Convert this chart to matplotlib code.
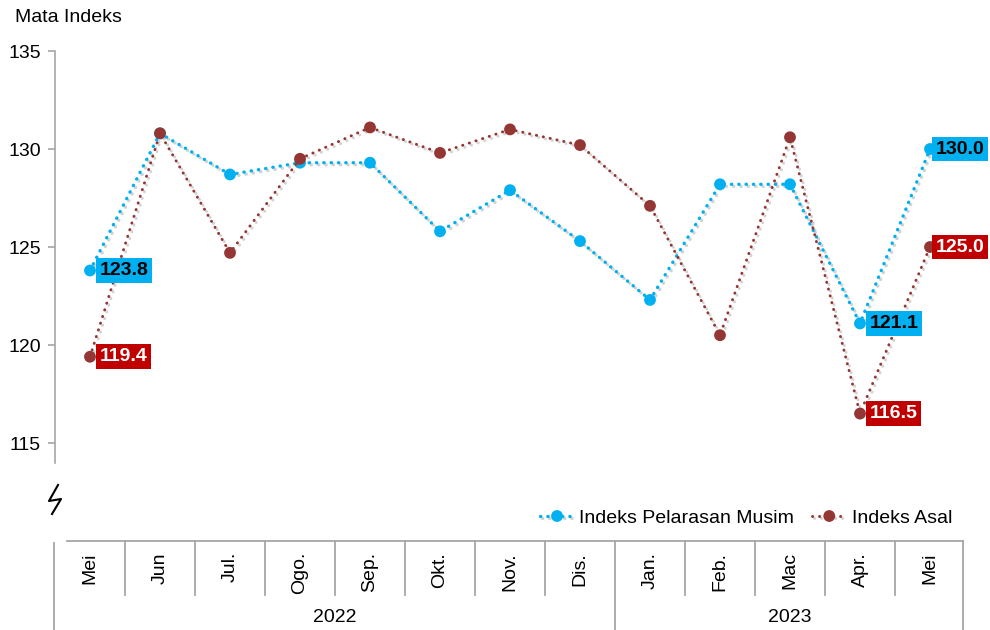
import matplotlib
matplotlib.use("Agg")
import matplotlib.pyplot as plt
import matplotlib.patheffects as pe
from matplotlib.lines import Line2D

plt.rcParams['font.family'] = ['Liberation Sans', 'DejaVu Sans']

months = ["Mei", "Jun", "Jul.", "Ogo.", "Sep.", "Okt.", "Nov.", "Dis.",
          "Jan.", "Feb.", "Mac", "Apr.", "Mei"]
years = ["2022", "2023"]
year_counts = [8, 5]
sa_index = [123.8, 130.8, 128.7, 129.3, 129.3, 125.8, 127.9, 125.3,
            122.3, 128.2, 128.2, 121.1, 130.0]
orig_index = [119.4, 130.8, 124.7, 129.5, 131.1, 129.8, 131.0, 130.2,
              127.1, 120.5, 130.6, 116.5, 125.0]
yticks = [115, 120, 125, 130, 135]
labels_sa = {0: "123.8", 11: "121.1", 12: "130.0"}
labels_orig = {0: "119.4", 11: "116.5", 12: "125.0"}

BLUE = "#00B0F0"
RED = "#943634"
LABEL_RED = "#C00000"
GRID = "#A6A6A6"
FS = 14

W, H = 990, 630
fig = plt.figure(figsize=(W / 100, H / 100), dpi=100)
left, right, top, bottom = 55, 965, 51, 541
ax = fig.add_axes([left / W, (H - bottom) / H, (right - left) / W, (bottom - top) / H])

x = list(range(len(months)))
shadow = [pe.SimpleLineShadow(offset=(1.5, -1.5), shadow_color="gray", alpha=0.35), pe.Normal()]
ax.plot(x, sa_index, color=BLUE, linestyle=(0, (0.1, 2.1)), linewidth=2.4,
        dash_capstyle="round", marker="o", markersize=8.5, markeredgewidth=0,
        label="Indeks Pelarasan Musim", path_effects=shadow, zorder=3)
ax.plot(x, orig_index, color=RED, linestyle=(0, (0.1, 2.3)), linewidth=2.1,
        dash_capstyle="round", marker="o", markersize=8.5, markeredgewidth=0,
        label="Indeks Asal", path_effects=shadow, zorder=4)

ax.set_xlim(-0.5, len(months) - 0.5)
ax.set_ylim(110, 135)
ax.set_yticks(yticks)
ax.set_yticklabels([str(t) for t in yticks], fontsize=FS)
ax.set_xticks([])
for s in ["top", "right", "bottom"]:
    ax.spines[s].set_visible(False)
ax.spines["left"].set_color(GRID)
ax.spines["left"].set_linewidth(1.2)
ax.spines["left"].set_bounds(114.0, 135)
ax.tick_params(axis="y", direction="out", length=5, color=GRID, width=1.2, pad=5)

# data labels
for i, txt in labels_sa.items():
    off = 4 if i == len(months) - 1 else 7
    ax.annotate(txt, (x[i], sa_index[i]), xytext=(off, 0), textcoords="offset points",
                ha="left", va="center", fontsize=FS, fontweight="bold", color="black",
                bbox=dict(boxstyle="square,pad=0.2", fc=BLUE, ec="none"), zorder=6)
for i, txt in labels_orig.items():
    off = 4 if i == len(months) - 1 else 7
    ax.annotate(txt, (x[i], orig_index[i]), xytext=(off, 0), textcoords="offset points",
                ha="left", va="center", fontsize=FS, fontweight="bold", color="white",
                bbox=dict(boxstyle="square,pad=0.2", fc=LABEL_RED, ec="none"), zorder=6)

# category table below
tr = ax.get_xaxis_transform()
axh = bottom - top
def fy(py):
    return (bottom - py) / axh

y_top = fy(541)
y_mid = fy(595)
y_bot = fy(632)
ax.plot([-0.33, len(months) - 0.53], [y_top, y_top], transform=tr, color=GRID,
        linewidth=1.3, clip_on=False)
ax.plot([-0.52, -0.52], [fy(543), y_bot], transform=tr, color=GRID, linewidth=1.3, clip_on=False)
ax.plot([len(months) - 0.53] * 2, [y_top, y_bot], transform=tr, color=GRID, linewidth=1.3, clip_on=False)
boundaries = []
c = 0
for n in year_counts[:-1]:
    c += n
    boundaries.append(c - 0.5)
for b in range(1, len(months)):
    xb = b - 0.5
    yb = y_bot if xb in boundaries else y_mid
    ax.plot([xb, xb], [y_top, yb], transform=tr, color=GRID, linewidth=1.3, clip_on=False)
for i, m in enumerate(months):
    ax.text(x[i], fy(552), m, transform=tr, rotation=90, ha="center", va="top",
            fontsize=FS, clip_on=False)
start = -0.5
for yr, n in zip(years, year_counts):
    end = start + n
    ax.text((start + end) / 2, fy(617), yr, transform=tr, ha="center", va="center",
            fontsize=FS, clip_on=False)
    start = end

# axis title
fig.text(15 / W, (H - 17) / H, "Mata Indeks", fontsize=FS, ha="left", va="center")

# break symbol
zx = [58, 49, 61, 52]
zy = [485, 501, 499, 514]
fig.add_artist(Line2D([v / W for v in zx], [(H - v) / H for v in zy], color="black",
                      linewidth=1.5, transform=fig.transFigure))

leg = ax.legend(loc="center right", bbox_to_anchor=(952 / W, (H - 518) / H),
                bbox_transform=fig.transFigure, ncol=2, frameon=False, fontsize=FS,
                handlelength=1.8, handletextpad=0.25, columnspacing=0.9, borderaxespad=0,
                borderpad=0)

fig.savefig("out.png", dpi=100)
